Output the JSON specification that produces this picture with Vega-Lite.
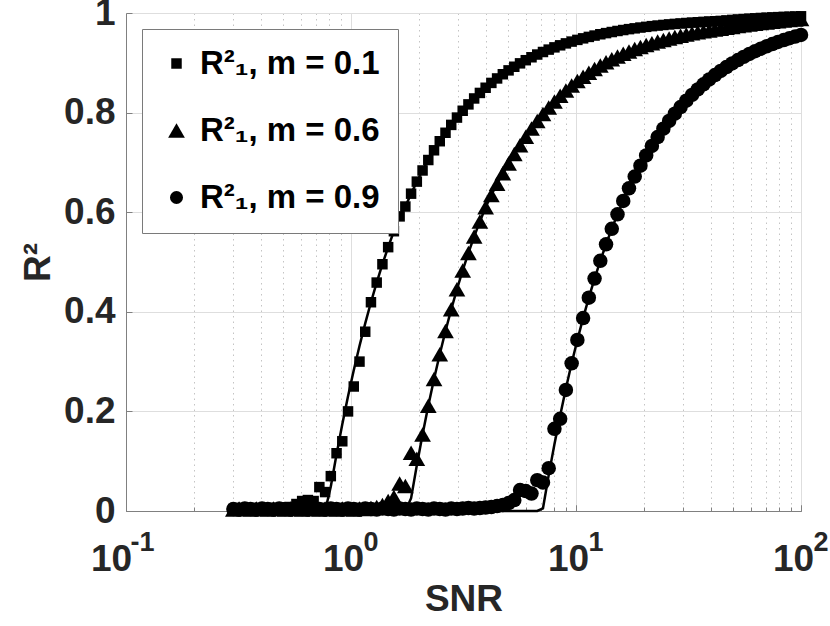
{
  "$schema": "https://vega.github.io/schema/vega-lite/v6.json",
  "autosize": {"type": "none"},
  "width": 675,
  "height": 498,
  "padding": {"left": 126, "top": 13, "right": 29, "bottom": 115},
  "background": "white",
  "config": {
    "font": "Liberation Sans",
    "view": {"stroke": null},
    "axis": {
      "labelFont": "Liberation Sans", "labelFontWeight": "bold", "labelFontSize": 37, "labelColor": "#262626",
      "titleFont": "Liberation Sans", "titleFontWeight": "bold", "titleFontSize": 37, "titleColor": "#262626",
      "domainColor": "#808080", "tickColor": "#808080", "labelFlush": false, "labelOverlap": false
    },
    "legend": {
      "labelFont": "Liberation Sans", "labelFontWeight": "bold", "labelFontSize": 33, "labelColor": "#000000", "labelLimit": 0
    }
  },
  "data": {"values": [
    {"x":0.3,"a":0.004,"b":0.003,"c":0.004,"la":0,"lb":0,"lc":0},
    {"x":0.3181,"a":0.003,"b":0.005,"c":0.003,"la":0,"lb":0,"lc":0},
    {"x":0.3374,"a":0.005,"b":0.004,"c":0.005,"la":0,"lb":0,"lc":0},
    {"x":0.3577,"a":0.004,"b":0.003,"c":0.004,"la":0,"lb":0,"lc":0},
    {"x":0.3794,"a":0.003,"b":0.005,"c":0.003,"la":0,"lb":0,"lc":0},
    {"x":0.4023,"a":0.005,"b":0.004,"c":0.005,"la":0,"lb":0,"lc":0},
    {"x":0.4266,"a":0.004,"b":0.003,"c":0.004,"la":0,"lb":0,"lc":0},
    {"x":0.4524,"a":0.006,"b":0.005,"c":0.003,"la":0,"lb":0,"lc":0},
    {"x":0.4797,"a":0.005,"b":0.004,"c":0.005,"la":0,"lb":0,"lc":0},
    {"x":0.5087,"a":0.007,"b":0.003,"c":0.004,"la":0,"lb":0,"lc":0},
    {"x":0.5394,"a":0.008,"b":0.005,"c":0.003,"la":0,"lb":0,"lc":0},
    {"x":0.572,"a":0.014,"b":0.004,"c":0.005,"la":0,"lb":0,"lc":0},
    {"x":0.6066,"a":0.02,"b":0.003,"c":0.004,"la":0,"lb":0,"lc":0},
    {"x":0.6433,"a":0.022,"b":0.005,"c":0.003,"la":0,"lb":0,"lc":0},
    {"x":0.6821,"a":0.02,"b":0.004,"c":0.005,"la":0,"lb":0,"lc":0},
    {"x":0.7234,"a":0.048,"b":0.003,"c":0.004,"la":0,"lb":0,"lc":0},
    {"x":0.7671,"a":0.038,"b":0.005,"c":0.003,"la":0,"lb":0,"lc":0},
    {"x":0.8134,"a":0.07,"b":0.004,"c":0.005,"la":0.0492,"lb":0,"lc":0},
    {"x":0.8626,"a":0.116,"b":0.003,"c":0.004,"la":0.1138,"lb":0,"lc":0},
    {"x":0.9147,"a":0.14,"b":0.005,"c":0.003,"la":0.1741,"lb":0,"lc":0},
    {"x":0.97,"a":0.2,"b":0.004,"c":0.005,"la":0.2303,"lb":0,"lc":0},
    {"x":1.0286,"a":0.25,"b":0.003,"c":0.004,"la":0.2826,"lb":0,"lc":0},
    {"x":1.0908,"a":0.3,"b":0.005,"c":0.003,"la":0.3313,"lb":0,"lc":0},
    {"x":1.1567,"a":0.36,"b":0.004,"c":0.005,"la":0.3768,"lb":0,"lc":0},
    {"x":1.2266,"a":0.4192,"b":0.006,"c":0.004,"la":0.4192,"lb":0,"lc":0},
    {"x":1.3007,"a":0.4587,"b":0.008,"c":0.003,"la":0.4587,"lb":0,"lc":0},
    {"x":1.3793,"a":0.4955,"b":0.012,"c":0.005,"la":0.4955,"lb":0,"lc":0},
    {"x":1.4627,"a":0.5298,"b":0.02,"c":0.004,"la":0.5298,"lb":0,"lc":0},
    {"x":1.5511,"a":0.5618,"b":0.028,"c":0.003,"la":0.5618,"lb":0,"lc":0},
    {"x":1.6448,"a":0.5916,"b":0.055,"c":0.005,"la":0.5916,"lb":0,"lc":0},
    {"x":1.7442,"a":0.6114,"b":0.05,"c":0.004,"la":0.6114,"lb":0,"lc":0},
    {"x":1.8496,"a":0.6372,"b":0.117,"c":0.003,"la":0.6372,"lb":0.0258,"lc":0},
    {"x":1.9614,"a":0.6614,"b":0.105,"c":0.005,"la":0.6614,"lb":0.092,"lc":0},
    {"x":2.0799,"a":0.6838,"b":0.1538,"c":0.004,"la":0.6838,"lb":0.1538,"lc":0},
    {"x":2.2056,"a":0.7048,"b":0.2113,"c":0.003,"la":0.7048,"lb":0.2113,"lc":0},
    {"x":2.3389,"a":0.7243,"b":0.2649,"c":0.005,"la":0.7243,"lb":0.2649,"lc":0},
    {"x":2.4803,"a":0.7425,"b":0.3149,"c":0.004,"la":0.7425,"lb":0.3149,"lc":0},
    {"x":2.6302,"a":0.7595,"b":0.3615,"c":0.003,"la":0.7595,"lb":0.3615,"lc":0},
    {"x":2.7891,"a":0.7753,"b":0.4049,"c":0.005,"la":0.7753,"lb":0.4049,"lc":0},
    {"x":2.9577,"a":0.79,"b":0.4453,"c":0.004,"la":0.79,"lb":0.4453,"lc":0},
    {"x":3.1364,"a":0.8037,"b":0.4831,"c":0.005,"la":0.8037,"lb":0.4831,"lc":0},
    {"x":3.3259,"a":0.8165,"b":0.5182,"c":0.006,"la":0.8165,"lb":0.5182,"lc":0},
    {"x":3.5269,"a":0.8284,"b":0.551,"c":0.005,"la":0.8284,"lb":0.551,"lc":0},
    {"x":3.74,"a":0.8395,"b":0.5815,"c":0.006,"la":0.8395,"lb":0.5815,"lc":0},
    {"x":3.966,"a":0.8499,"b":0.6099,"c":0.007,"la":0.8499,"lb":0.6099,"lc":0},
    {"x":4.2057,"a":0.8596,"b":0.6345,"c":0.008,"la":0.8596,"lb":0.6345,"lc":0},
    {"x":4.4599,"a":0.8686,"b":0.6572,"c":0.01,"la":0.8686,"lb":0.6572,"lc":0},
    {"x":4.7294,"a":0.877,"b":0.6782,"c":0.012,"la":0.877,"lb":0.6782,"lc":0},
    {"x":5.0152,"a":0.8848,"b":0.6977,"c":0.016,"la":0.8848,"lb":0.6977,"lc":0},
    {"x":5.3183,"a":0.8921,"b":0.7167,"c":0.022,"la":0.8921,"lb":0.7167,"lc":0},
    {"x":5.6397,"a":0.8989,"b":0.7344,"c":0.042,"la":0.8989,"lb":0.7344,"lc":0},
    {"x":5.9805,"a":0.9052,"b":0.7517,"c":0.04,"la":0.9052,"lb":0.7517,"lc":0},
    {"x":6.3419,"a":0.9111,"b":0.7679,"c":0.035,"la":0.9111,"lb":0.7679,"lc":0},
    {"x":6.7252,"a":0.9166,"b":0.783,"c":0.062,"la":0.9166,"lb":0.783,"lc":0},
    {"x":7.1316,"a":0.9217,"b":0.7971,"c":0.057,"la":0.9217,"lb":0.7971,"lc":0.0054},
    {"x":7.5626,"a":0.9265,"b":0.8102,"c":0.086,"la":0.9265,"lb":0.8102,"lc":0.072},
    {"x":8.0196,"a":0.931,"b":0.8224,"c":0.165,"la":0.931,"lb":0.8224,"lc":0.134},
    {"x":8.5043,"a":0.9351,"b":0.8338,"c":0.185,"la":0.9351,"lb":0.8338,"lc":0.192},
    {"x":9.0182,"a":0.939,"b":0.8444,"c":0.243,"la":0.939,"lb":0.8444,"lc":0.246},
    {"x":9.5632,"a":0.9426,"b":0.8543,"c":0.2965,"la":0.9426,"lb":0.8543,"lc":0.2965},
    {"x":10.141,"a":0.946,"b":0.8636,"c":0.3435,"la":0.946,"lb":0.8636,"lc":0.3435},
    {"x":10.754,"a":0.9491,"b":0.8722,"c":0.3874,"la":0.9491,"lb":0.8722,"lc":0.3874},
    {"x":11.404,"a":0.952,"b":0.8802,"c":0.4284,"la":0.952,"lb":0.8802,"lc":0.4284},
    {"x":12.093,"a":0.9547,"b":0.8876,"c":0.4667,"la":0.9547,"lb":0.8876,"lc":0.4667},
    {"x":12.824,"a":0.9573,"b":0.8946,"c":0.5023,"la":0.9573,"lb":0.8946,"lc":0.5023},
    {"x":13.599,"a":0.9596,"b":0.9011,"c":0.5356,"la":0.9596,"lb":0.9011,"lc":0.5356},
    {"x":14.421,"a":0.9618,"b":0.9071,"c":0.5667,"la":0.9618,"lb":0.9071,"lc":0.5667},
    {"x":15.292,"a":0.9639,"b":0.9128,"c":0.5957,"la":0.9639,"lb":0.9128,"lc":0.5957},
    {"x":16.216,"a":0.9658,"b":0.918,"c":0.6227,"la":0.9658,"lb":0.918,"lc":0.6227},
    {"x":17.196,"a":0.9676,"b":0.9229,"c":0.648,"la":0.9676,"lb":0.9229,"lc":0.648},
    {"x":18.235,"a":0.9692,"b":0.9275,"c":0.6715,"la":0.9692,"lb":0.9275,"lc":0.6715},
    {"x":19.337,"a":0.9708,"b":0.9317,"c":0.6935,"la":0.9708,"lb":0.9317,"lc":0.6935},
    {"x":20.506,"a":0.9722,"b":0.9357,"c":0.714,"la":0.9722,"lb":0.9357,"lc":0.714},
    {"x":21.745,"a":0.9736,"b":0.9394,"c":0.7331,"la":0.9736,"lb":0.9394,"lc":0.7331},
    {"x":23.059,"a":0.9748,"b":0.9428,"c":0.751,"la":0.9748,"lb":0.9428,"lc":0.751},
    {"x":24.453,"a":0.976,"b":0.946,"c":0.7676,"la":0.976,"lb":0.946,"lc":0.7676},
    {"x":25.93,"a":0.9771,"b":0.949,"c":0.7832,"la":0.9771,"lb":0.949,"lc":0.7832},
    {"x":27.497,"a":0.9781,"b":0.9518,"c":0.7977,"la":0.9781,"lb":0.9518,"lc":0.7977},
    {"x":29.159,"a":0.979,"b":0.9544,"c":0.8112,"la":0.979,"lb":0.9544,"lc":0.8112},
    {"x":30.921,"a":0.9799,"b":0.9568,"c":0.8239,"la":0.9799,"lb":0.9568,"lc":0.8239},
    {"x":32.79,"a":0.9807,"b":0.9591,"c":0.8356,"la":0.9807,"lb":0.9591,"lc":0.8356},
    {"x":34.772,"a":0.9815,"b":0.9612,"c":0.8466,"la":0.9815,"lb":0.9612,"lc":0.8466},
    {"x":36.873,"a":0.9822,"b":0.9631,"c":0.8569,"la":0.9822,"lb":0.9631,"lc":0.8569},
    {"x":39.101,"a":0.9829,"b":0.965,"c":0.8665,"la":0.9829,"lb":0.965,"lc":0.8665},
    {"x":41.464,"a":0.9835,"b":0.9667,"c":0.8754,"la":0.9835,"lb":0.9667,"lc":0.8754},
    {"x":43.97,"a":0.9841,"b":0.9683,"c":0.8837,"la":0.9841,"lb":0.9683,"lc":0.8837},
    {"x":46.627,"a":0.9851,"b":0.9702,"c":0.8915,"la":0.9851,"lb":0.9702,"lc":0.8915},
    {"x":49.445,"a":0.9861,"b":0.972,"c":0.8988,"la":0.9861,"lb":0.972,"lc":0.8988},
    {"x":52.433,"a":0.987,"b":0.9737,"c":0.9056,"la":0.987,"lb":0.9737,"lc":0.9056},
    {"x":55.602,"a":0.9878,"b":0.9754,"c":0.9119,"la":0.9878,"lb":0.9754,"lc":0.9119},
    {"x":58.962,"a":0.9886,"b":0.9769,"c":0.9178,"la":0.9886,"lb":0.9769,"lc":0.9178},
    {"x":62.525,"a":0.9893,"b":0.9783,"c":0.9233,"la":0.9893,"lb":0.9783,"lc":0.9233},
    {"x":66.304,"a":0.99,"b":0.9797,"c":0.9284,"la":0.99,"lb":0.9797,"lc":0.9284},
    {"x":70.311,"a":0.9906,"b":0.9811,"c":0.9332,"la":0.9906,"lb":0.9811,"lc":0.9332},
    {"x":74.56,"a":0.9912,"b":0.9824,"c":0.9377,"la":0.9912,"lb":0.9824,"lc":0.9377},
    {"x":79.066,"a":0.9917,"b":0.9835,"c":0.9418,"la":0.9917,"lb":0.9835,"lc":0.9418},
    {"x":83.844,"a":0.9922,"b":0.9847,"c":0.9457,"la":0.9922,"lb":0.9847,"lc":0.9457},
    {"x":88.911,"a":0.9926,"b":0.9859,"c":0.9494,"la":0.9926,"lb":0.9859,"lc":0.9494},
    {"x":94.284,"a":0.993,"b":0.9869,"c":0.9527,"la":0.993,"lb":0.9869,"lc":0.9527},
    {"x":100,"a":0.9934,"b":0.9879,"c":0.9559,"la":0.9934,"lb":0.9879,"lc":0.9559}
  ]},
  "resolve": {"axis": {"x": "independent"}},
  "layer": [
    {
      "transform": [{"fold": ["la", "lb", "lc"], "as": ["ls", "lv"]}],
      "mark": {"type": "line", "color": "black", "strokeWidth": 2.5},
      "encoding": {
        "x": {
          "field": "x", "type": "quantitative",
          "scale": {"type": "log", "domain": [0.1, 100], "nice": false},
          "axis": {
            "orient": "bottom", "title": null, "labels": false, "domain": false,
            "values": [0.2,0.3,0.4,0.5,0.6,0.7,0.8,0.9,2,3,4,5,6,7,8,9,20,30,40,50,60,70,80,90],
            "grid": true, "gridColor": "#c4c4c4", "gridDash": [1.5, 4],
            "ticks": true, "tickSize": -4
          }
        },
        "y": {
          "field": "lv", "type": "quantitative",
          "scale": {"domain": [0, 1], "nice": false},
          "axis": {
            "title": "R²", "titlePadding": 6,
            "values": [0, 0.2, 0.4, 0.6, 0.8, 1],
            "format": ".1~f",
            "labelPadding": 17,
            "grid": true, "gridColor": "#dedede",
            "tickSize": -6
          }
        },
        "detail": {"field": "ls", "type": "nominal"}
      }
    },
    {
      "transform": [{"fold": ["a", "b", "c"], "as": ["s", "v"]}, {"filter": "datum.s != 'c'"}],
      "mark": {"type": "point", "filled": true, "color": "black", "opacity": 1, "strokeWidth": 0},
      "encoding": {
        "x": {
          "field": "x", "type": "quantitative",
          "scale": {"type": "log", "domain": [0.1, 100], "nice": false},
          "axis": {
            "orient": "bottom", "title": "SNR", "titlePadding": 4,
            "values": [0.1, 1, 10, 100],
            "labelExpr": "'10'",
            "labelPadding": 36,
            "labelOffset": {"condition": {"test": "datum.value < 0.5", "value": -15}, "value": -8},
            "grid": true, "gridColor": "#dedede",
            "tickSize": -6
          }
        },
        "y": {"field": "v", "type": "quantitative"},
        "shape": {
          "field": "s", "type": "nominal",
          "scale": {"domain": ["a", "b", "c"], "range": ["square", "triangle-up", "circle"]},
          "legend": {
            "title": null, "orient": "top-left", "offset": 16, "padding": 18,
            "fillColor": "white", "strokeColor": "#7a7a7a",
            "rowPadding": 33, "labelOffset": 7, "symbolFillColor": "black", "symbolStrokeWidth": 0,
            "labelExpr": "datum.label == 'a' ? 'R²₁, m = 0.1' : datum.label == 'b' ? 'R²₁, m = 0.6' : 'R²₁, m = 0.9'"
          }
        },
        "size": {
          "field": "s", "type": "nominal",
          "scale": {"type": "ordinal", "domain": ["a", "b", "c"], "range": [110, 280, 170]},
          "legend": {
            "title": null, "orient": "top-left", "offset": 16, "padding": 18,
            "fillColor": "white", "strokeColor": "#7a7a7a",
            "rowPadding": 33, "labelOffset": 7, "symbolFillColor": "black", "symbolStrokeWidth": 0,
            "labelExpr": "datum.label == 'a' ? 'R²₁, m = 0.1' : datum.label == 'b' ? 'R²₁, m = 0.6' : 'R²₁, m = 0.9'"
          }
        }
      }
    },
    {
      "transform": [{"fold": ["c"], "as": ["s", "v"]}],
      "mark": {"type": "point", "shape": "circle", "size": 210, "filled": true, "color": "black", "opacity": 1, "strokeWidth": 0},
      "encoding": {
        "x": {
          "field": "x", "type": "quantitative",
          "scale": {"type": "log", "domain": [0.1, 100], "nice": false},
          "axis": {
            "orient": "bottom", "title": null, "domain": false, "grid": false,
            "values": [0.1, 1, 10, 100],
            "labelExpr": "abs(datum.value-0.1)<0.001 ? '-1' : abs(datum.value-1)<0.001 ? '0' : abs(datum.value-10)<0.01 ? '1' : '2'",
            "labelFontSize": 27, "labelAlign": "left",
            "labelPadding": 24,
            "labelOffset": {"condition": {"test": "datum.value < 0.5", "value": 4}, "value": 12},
            "tickSize": -6
          }
        },
        "y": {"field": "v", "type": "quantitative"}
      }
    }
  ]
}
